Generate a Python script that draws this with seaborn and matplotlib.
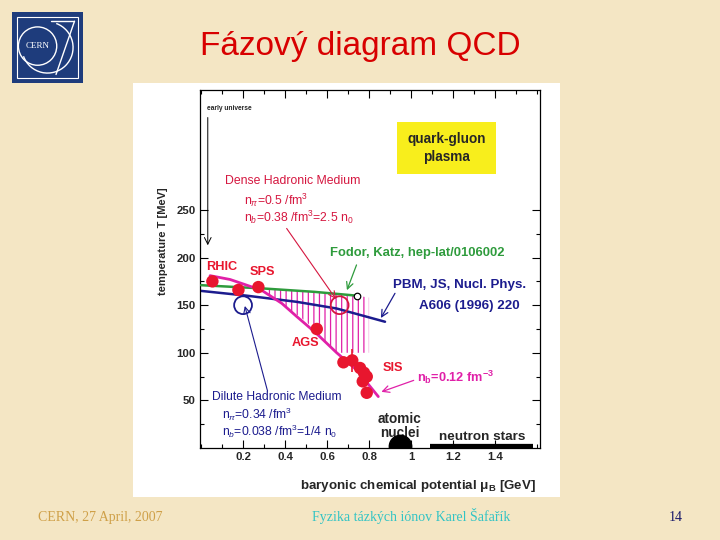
import numpy as np
import pandas as pd
import matplotlib
matplotlib.use("Agg")
import matplotlib.pyplot as plt
import seaborn as sns
from matplotlib.patches import Rectangle, Circle, Arc
from matplotlib.ticker import MultipleLocator, FixedLocator

# ---------------- data ----------------
exp_mu = [0.054, 0.178, 0.273, 0.551, 0.678, 0.720, 0.757, 0.776, 0.789, 0.770, 0.789]
exp_T = [175, 166, 169, 125, 90, 92, 84, 79, 75, 70, 58]

freeze_mu = [0.043, 0.138, 0.178, 0.289, 0.384, 0.456, 0.551, 0.646, 0.741, 0.844]
freeze_T = [181, 177, 174, 165.6, 152, 138, 120, 100, 82, 54]

lattice_mu = [0.0, 0.30, 0.54, 0.741]
lattice_T = [171, 167.5, 164, 160]

pbm_mu = [0.0, 0.217, 0.456, 0.646, 0.876]
pbm_T = [165, 160, 153.5, 146.5, 132.6]

hatch_mu = [0.31, 0.40, 0.50, 0.60, 0.65, 0.74, 0.80]
hatch_top = [167.5, 166.5, 164.6, 162.5, 161.5, 160, 158]
hatch_bot = [162, 149, 133, 110, 100, 100, 100]

err_mu = [0.720]
err_lo = [80]
err_hi = [104]

dense_mu = [0.66]
dense_T = [150]
dilute_mu = [0.20]
dilute_T = [150]

nuclei_mu = [0.948]
nuclei_T = [2]

nstar_mu = [1.09, 1.58]
nstar_T = [1.5, 1.5]

x_ticks = [0.2, 0.4, 0.6, 0.8, 1.0, 1.2, 1.4]
x_ticklabels = ["0.2", "0.4", "0.6", "0.8", "1", "1.2", "1.4"]
y_ticks = [50, 100, 150, 200, 250]

# ---------------- style ----------------
sns.set_theme(style="ticks")
plt.rcParams["font.family"] = ["Liberation Sans", "DejaVu Sans"]
plt.rcParams["hatch.linewidth"] = 0.9
plt.rcParams["mathtext.fontset"] = "custom"
plt.rcParams["mathtext.rm"] = "Liberation Sans"
plt.rcParams["mathtext.it"] = "Liberation Sans:italic"
plt.rcParams["mathtext.bf"] = "Liberation Sans:bold"

BG = "#F4E6C4"
RED = "#E8162E"
CRIMSON = "#D5163F"
MAGENTA = "#E020A8"
GREEN = "#2E9B3C"
NAVY = "#1C1C8E"

fig = plt.figure(figsize=(7.2, 5.4), dpi=100)
fig.patch.set_facecolor(BG)

# white panel behind the scanned graph
fig.patches.append(Rectangle((133 / 720, 1 - 497 / 540), (560 - 133) / 720, (497 - 83) / 540,
                             transform=fig.transFigure, facecolor="white", edgecolor="none", zorder=-5))

ax = fig.add_axes([200 / 720, 1 - 448 / 540, 340 / 720, 358 / 540])
ax.set_zorder(2)
ax.set_facecolor("white")

# hatched region
ax.fill_between(hatch_mu, hatch_bot, hatch_top, facecolor="none", edgecolor=MAGENTA,
                hatch="|||", linewidth=0, zorder=1)

df_freeze = pd.DataFrame({"mu": freeze_mu, "T": freeze_T})
df_lat = pd.DataFrame({"mu": lattice_mu, "T": lattice_T})
df_pbm = pd.DataFrame({"mu": pbm_mu, "T": pbm_T})
df_exp = pd.DataFrame({"mu": exp_mu, "T": exp_T})

sns.lineplot(data=df_pbm, x="mu", y="T", ax=ax, color=NAVY, lw=1.8, sort=False, zorder=2)
sns.lineplot(data=df_lat, x="mu", y="T", ax=ax, color=GREEN, lw=1.8, sort=False, zorder=3)
sns.lineplot(data=df_freeze, x="mu", y="T", ax=ax, color=MAGENTA, lw=2.0, sort=False, zorder=4)

ax.vlines(err_mu, err_lo, err_hi, color=RED, lw=1.2, zorder=5)
sns.scatterplot(data=df_exp, x="mu", y="T", ax=ax, color=RED, s=80, edgecolor="none", zorder=6)

# end point of lattice line
ax.scatter([lattice_mu[-1]], [lattice_T[-1]], s=22, facecolor="white", edgecolor="black", lw=0.9, zorder=7)

# open circles
ax.scatter(dense_mu, dense_T, s=165, facecolor="none", edgecolor=CRIMSON, lw=1.3, zorder=7)
ax.scatter(dilute_mu, dilute_T, s=165, facecolor="none", edgecolor=NAVY, lw=1.3, zorder=7)

# atomic nuclei and neutron stars
ax.scatter(nuclei_mu, nuclei_T, s=260, color="black", zorder=7)
ax.plot(nstar_mu, nstar_T, color="black", lw=4.5, solid_capstyle="butt", zorder=7)

# ---------------- axes ----------------
ax.set_xlim(-0.005, 1.614)
ax.set_ylim(0, 376)
ax.xaxis.set_major_locator(FixedLocator(x_ticks))
ax.set_xticklabels(x_ticklabels)
ax.xaxis.set_minor_locator(MultipleLocator(0.1))
ax.yaxis.set_major_locator(FixedLocator(y_ticks))
ax.yaxis.set_minor_locator(FixedLocator([25, 75, 125, 175, 225]))
ax.tick_params(which="both", direction="in", top=True, right=True, color="black", width=0.8)
ax.tick_params(which="major", length=6, labelsize=8.2, pad=3)
ax.tick_params(which="minor", length=3)
for lab in ax.get_xticklabels() + ax.get_yticklabels():
    lab.set_fontweight("bold")
for s in ax.spines.values():
    s.set_linewidth(0.9)
    s.set_color("black")

ax.set_xlabel(r"baryonic chemical potential $\mathbf{\mu_B}$ [GeV]", fontsize=9.6, fontweight="bold")
ax.xaxis.set_label_coords(0.64, -0.085)
ax.set_ylabel("temperature T [MeV]", fontsize=8, fontweight="bold")
ax.yaxis.set_label_coords(-0.095, 0.578)

# ---------------- annotations ----------------
ax.text(0.03, 357, "early universe", fontsize=4.8, fontweight="bold", ha="left", va="center")
ax.annotate("", xy=(0.032, 210), xytext=(0.032, 350),
            arrowprops=dict(arrowstyle="->", color="black", lw=0.7))

ax.text(1.17, 315, "quark-gluon\nplasma", fontsize=9.8, fontweight="bold", ha="center", va="center",
        linespacing=1.4, bbox=dict(boxstyle="square,pad=0.75", facecolor="#F8EE1C", edgecolor="none"))

ax.text(0.115, 280, "Dense Hadronic Medium", fontsize=8.8, color=CRIMSON, ha="left", va="center")
ax.text(0.205, 260, r"n$_\pi$=0.5 /fm$^3$", fontsize=8.8, color=CRIMSON, ha="left", va="center")
ax.text(0.205, 242, r"n$_b$=0.38 /fm$^3$=2.5 n$_0$", fontsize=8.8, color=CRIMSON, ha="left", va="center")
ax.annotate("", xy=(0.65, 154), xytext=(0.40, 233),
            arrowprops=dict(arrowstyle="->", color=CRIMSON, lw=0.8))

ax.text(0.612, 205, "Fodor, Katz, hep-lat/0106002", fontsize=9.4, fontweight="bold", color=GREEN,
        ha="left", va="center")
ax.annotate("", xy=(0.69, 163), xytext=(0.745, 195),
            arrowprops=dict(arrowstyle="->", color=GREEN, lw=0.9))

ax.text(0.915, 171, "PBM, JS, Nucl. Phys.", fontsize=9.6, fontweight="bold", color=NAVY,
        ha="left", va="center")
ax.text(1.04, 149, "A606 (1996) 220", fontsize=9.6, fontweight="bold", color=NAVY,
        ha="left", va="center")
ax.annotate("", xy=(0.85, 134), xytext=(0.93, 165),
            arrowprops=dict(arrowstyle="->", color=NAVY, lw=0.9))

ax.text(0.025, 190, "RHIC", fontsize=9.2, fontweight="bold", color=RED, ha="left", va="center")
ax.text(0.232, 185, "SPS", fontsize=9.2, fontweight="bold", color=RED, ha="left", va="center")
ax.text(0.43, 110, "AGS", fontsize=9.2, fontweight="bold", color=RED, ha="left", va="center")
ax.text(0.865, 84, "SIS", fontsize=9.2, fontweight="bold", color=RED, ha="left", va="center")

ax.text(1.03, 74, r"n$_\mathbf{b}$=0.12 fm$^\mathbf{-3}$", fontsize=9.2, fontweight="bold",
        color=MAGENTA, ha="left", va="center")
ax.annotate("", xy=(0.846, 58), xytext=(1.025, 72),
            arrowprops=dict(arrowstyle="->", color=MAGENTA, lw=0.9))

ax.text(0.05, 54, "Dilute Hadronic Medium", fontsize=8.7, color=NAVY, ha="left", va="center")
ax.text(0.10, 35, r"n$_\pi$=0.34 /fm$^3$", fontsize=8.7, color=NAVY, ha="left", va="center")
ax.text(0.10, 17, r"n$_b$=0.038 /fm$^3$=1/4 n$_0$", fontsize=8.7, color=NAVY, ha="left", va="center")
ax.annotate("", xy=(0.205, 152), xytext=(0.32, 57),
            arrowprops=dict(arrowstyle="->", color=NAVY, lw=0.8))

ax.text(0.945, 23, "atomic\nnuclei", fontsize=9.8, fontweight="bold", ha="center", va="center",
        linespacing=0.95)
ax.text(1.34, 12, "neutron stars", fontsize=9.7, fontweight="bold", ha="center", va="center")

# ---------------- slide decorations ----------------
fig.text(0.5, 1 - 46 / 540, "Fázový diagram QCD", fontsize=24, color="#D80000",
         ha="center", va="center")

serif = ["Liberation Serif", "DejaVu Serif"]
fig.text(38 / 720, 1 - 521 / 540, "CERN, 27 April, 2007", fontsize=10, color="#CFA048",
         family=serif, ha="left", va="baseline")
fig.text(411 / 720, 1 - 521 / 540, "Fyzika tázkých iónov Karel Šafařík", fontsize=10,
         color="#33C4C4", family=serif, ha="center", va="baseline")
fig.text(676 / 720, 1 - 521 / 540, "14", fontsize=10, color="#1A1A6A", family=serif,
         ha="center", va="baseline")

# CERN logo
lax = fig.add_axes([12 / 720, 1 - 83 / 540, 71 / 720, 71 / 540])
lax.set_xlim(0, 1)
lax.set_ylim(0, 1)
lax.axis("off")
lax.add_patch(Rectangle((0, 0), 1, 1, facecolor="#1E3C7C", edgecolor="none"))
lax.add_patch(Rectangle((0.07, 0.07), 0.86, 0.86, facecolor="none", edgecolor="white", lw=0.8))
lax.add_patch(Circle((0.36, 0.52), 0.27, facecolor="none", edgecolor="white", lw=1.0))
lax.add_patch(Arc((0.5, 0.5), 0.72, 0.72, theta1=200, theta2=430, edgecolor="white", lw=1.0))
lax.plot([0.55, 0.88], [0.87, 0.87], color="white", lw=1.0)
lax.plot([0.88, 0.62], [0.87, 0.12], color="white", lw=1.0)
lax.text(0.36, 0.52, "CERN", fontsize=6.5, color="white", family=serif, ha="center", va="center")

fig.savefig("out.png", dpi=100, facecolor=BG)
